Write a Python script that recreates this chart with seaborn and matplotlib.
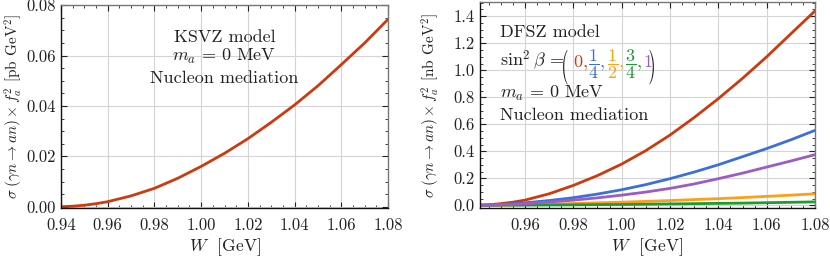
import numpy as np
import pandas as pd
import matplotlib
matplotlib.use('Agg')
import matplotlib.pyplot as plt
import seaborn as sns
from matplotlib.ticker import MultipleLocator, FormatStrFormatter
from matplotlib.textpath import TextPath
from matplotlib.patches import PathPatch
from matplotlib.font_manager import FontProperties
from matplotlib.transforms import Affine2D, ScaledTranslation

# values
W = [0.94, 0.945, 0.95, 0.955, 0.96, 0.97, 0.98, 0.99, 1.00, 1.01, 1.02, 1.03, 1.04, 1.05, 1.06, 1.07, 1.08]
ksvz = [0.0, 0.0002, 0.0006, 0.0012, 0.002, 0.0043, 0.0073, 0.0113, 0.016, 0.0212, 0.027, 0.0335, 0.0404, 0.048, 0.0564, 0.065, 0.0744]

dfsz_0 = [0.0, 0.004, 0.012, 0.023, 0.038, 0.085, 0.147, 0.22, 0.305, 0.405, 0.52, 0.65, 0.79, 0.94, 1.10, 1.27, 1.44]
dfsz_14 = [0.0, 0.002, 0.005, 0.011, 0.018, 0.035, 0.056, 0.083, 0.115, 0.153, 0.197, 0.246, 0.30, 0.36, 0.42, 0.485, 0.555]
dfsz_12 = [0.0, 0.0004, 0.001, 0.0025, 0.004, 0.008, 0.013, 0.018, 0.023, 0.029, 0.035, 0.042, 0.049, 0.057, 0.066, 0.075, 0.085]
dfsz_34 = [0.0, 0.0001, 0.0003, 0.0006, 0.001, 0.002, 0.003, 0.005, 0.006, 0.008, 0.010, 0.012, 0.014, 0.016, 0.019, 0.022, 0.025]
dfsz_1 = [0.0, 0.001, 0.003, 0.007, 0.012, 0.024, 0.038, 0.055, 0.075, 0.098, 0.125, 0.158, 0.197, 0.238, 0.283, 0.328, 0.375]

beta_labels = ['0', '1/4', '1/2', '3/4', '1']
colors = {'0': '#CC3A0E', '1/4': '#3D6FD8', '1/2': '#FF9F14', '3/4': '#1E9B2E', '1': '#9B5CC6'}

df_k = pd.DataFrame({'W': W, 'sigma': ksvz})
df_d = pd.DataFrame({
    'W': W * 5,
    'sigma': dfsz_0 + dfsz_14 + dfsz_12 + dfsz_34 + dfsz_1,
    'sin2beta': sum([[b] * len(W) for b in beta_labels], []),
})

sns.set_style('ticks')
plt.rcParams['font.family'] = ['cmr10', 'DejaVu Serif']
plt.rcParams['mathtext.fontset'] = 'cm'
plt.rcParams['axes.formatter.use_mathtext'] = True
plt.rcParams['axes.unicode_minus'] = False

fig = plt.figure(figsize=(8.3, 2.59), dpi=100)
ax1 = fig.add_axes([0.0735, 0.197, 0.394, 0.784])
ax2 = fig.add_axes([0.578, 0.197, 0.404, 0.795])

txtc = '#222222'
fs = 13
ylab = r'$\sigma\;(\gamma n \rightarrow a n) \times f_a^2$ [%s GeV$^2$]'
ma_txt = r'$m_a\,=\,0$ MeV'


def tall_paren(ax, ch, x, y):
    # thin, stretched parenthesis like a TeX \left( delimiter
    tp = TextPath((0, 0), ch, size=13, prop=FontProperties(family='cmr10'))
    tr = (Affine2D().scale(1.05 / 72, 1.9 / 72) + fig.dpi_scale_trans
          + ScaledTranslation(x, y, ax.transAxes))
    ax.add_patch(PathPatch(tp, transform=tr, color=txtc, lw=0, clip_on=False))


# left panel: KSVZ
sns.lineplot(data=df_k, x='W', y='sigma', ax=ax1, color=colors['0'], linewidth=2.0)
ax1.set_xlim(0.94, 1.08)
ax1.set_ylim(-0.0005, 0.0801)
ax1.xaxis.set_major_locator(MultipleLocator(0.02))
ax1.xaxis.set_minor_locator(MultipleLocator(0.005))
ax1.yaxis.set_major_locator(MultipleLocator(0.02))
ax1.yaxis.set_minor_locator(MultipleLocator(0.005))
ax1.xaxis.set_major_formatter(FormatStrFormatter('%.2f'))
ax1.yaxis.set_major_formatter(FormatStrFormatter('%.2f'))
ax1.set_ylabel(ylab % 'pb', fontsize=11, color=txtc)
ax1.yaxis.set_label_coords(-0.11, 0.5)
ax1.text(0.5, 0.842, 'KSVZ model', transform=ax1.transAxes, ha='center', va='center', fontsize=fs, color=txtc)
ax1.text(0.5, 0.744, ma_txt, transform=ax1.transAxes, ha='center', va='center', fontsize=fs, color=txtc)
ax1.text(0.5, 0.640, 'Nucleon mediation', transform=ax1.transAxes, ha='center', va='center', fontsize=fs, color=txtc)

# right panel: DFSZ
sns.lineplot(data=df_d, x='W', y='sigma', hue='sin2beta', palette=colors, ax=ax2,
             linewidth=2.0, legend=False)
ax2.set_xlim(0.9413, 1.08)
ax2.set_ylim(-0.02, 1.505)
ax2.xaxis.set_major_locator(MultipleLocator(0.02))
ax2.xaxis.set_minor_locator(MultipleLocator(0.005))
ax2.yaxis.set_major_locator(MultipleLocator(0.2))
ax2.yaxis.set_minor_locator(MultipleLocator(0.05))
ax2.xaxis.set_major_formatter(FormatStrFormatter('%.2f'))
ax2.yaxis.set_major_formatter(FormatStrFormatter('%.1f'))
ax2.set_ylabel(ylab % 'nb', fontsize=11, color=txtc)
ax2.yaxis.set_label_coords(-0.113, 0.5)

ax2.text(0.06, 0.854, 'DFSZ model', transform=ax2.transAxes, ha='left', va='center', fontsize=fs, color=txtc)
yb = 0.684
ax2.text(0.06, yb, r'$\sin^2\beta\, =$', transform=ax2.transAxes, ha='left', va='baseline', fontsize=fs, color=txtc)
tall_paren(ax2, '(', 0.243, 0.642)
pieces = [(0.277, r'$0,$', '0'), (0.324, r'$\dfrac{1}{4},$', '1/4'), (0.380, r'$\dfrac{1}{2},$', '1/2'),
          (0.432, r'$\dfrac{3}{4},$', '3/4'), (0.488, r'$1$', '1')]
for xp, s, key in pieces:
    ax2.text(xp, yb, s, transform=ax2.transAxes, ha='left', va='baseline', fontsize=fs, color=colors[key])
tall_paren(ax2, ')', 0.503, 0.642)
ax2.text(0.06, 0.558, ma_txt, transform=ax2.transAxes, ha='left', va='center', fontsize=fs, color=txtc)
ax2.text(0.06, 0.451, 'Nucleon mediation', transform=ax2.transAxes, ha='left', va='center', fontsize=fs, color=txtc)

for ax in (ax1, ax2):
    ax.set_xlabel(r'$W$  [GeV]', fontsize=12.5, color=txtc, labelpad=2)
    ax.grid(True, which='major', color='#d4d4d4', linewidth=0.8)
    ax.set_axisbelow(True)
    ax.tick_params(which='both', direction='in', top=True, right=True, colors='#222222',
                   labelsize=12, labelcolor=txtc)
    ax.tick_params(which='major', length=4, width=0.8)
    ax.tick_params(axis='x', which='major', pad=7)
    ax.tick_params(which='minor', length=2.2, width=0.6)
    for side in ('left', 'bottom'):
        ax.spines[side].set_color('#111111')
        ax.spines[side].set_linewidth(1.0)
    for side in ('top', 'right'):
        ax.spines[side].set_color('#777777')
        ax.spines[side].set_linewidth(1.0)

fig.savefig('out.png', dpi=100)
